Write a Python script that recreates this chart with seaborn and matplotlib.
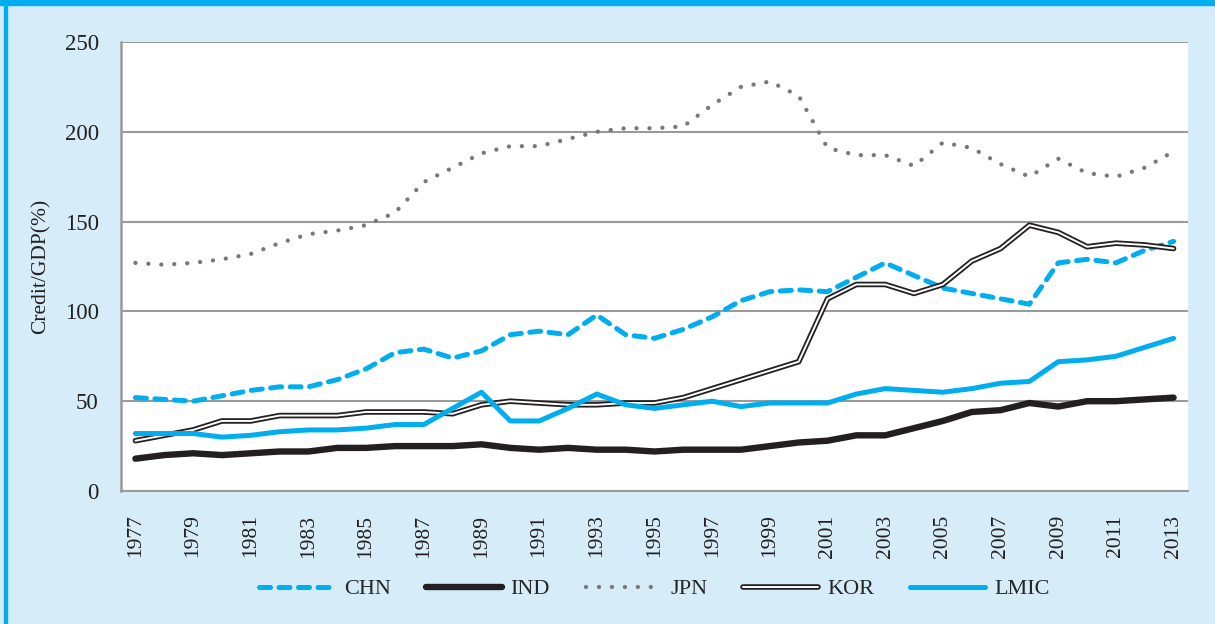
import matplotlib
matplotlib.use("Agg")
import matplotlib.pyplot as plt
import matplotlib.patheffects as pe
from matplotlib.patches import Rectangle
import numpy as np
import pandas as pd
import seaborn as sns

# данные
years = list(range(1977, 2014))
chn = [52, 51, 50, 53, 56, 58, 58, 62, 68, 77, 79, 74, 78, 87, 89, 87, 98, 87, 85, 90,
       97, 106, 111, 112, 111, 119, 127, 120, 113, 110, 107, 104, 127, 129, 127, 134, 139]
ind = [18, 20, 21, 20, 21, 22, 22, 24, 24, 25, 25, 25, 26, 24, 23, 24, 23, 23, 22, 23,
       23, 23, 25, 27, 28, 31, 31, 35, 39, 44, 45, 49, 47, 50, 50, 51, 52]
jpn = [127, 126, 127, 129, 132, 138, 143, 145, 148, 155, 172, 180, 188, 192, 192, 196, 200, 202, 202, 203,
       215, 225, 228, 220, 191, 187, 187, 181, 194, 191, 182, 175, 185, 177, 175, 180, 189]
kor = [28, 31, 34, 39, 39, 42, 42, 42, 44, 44, 44, 43, 48, 50, 49, 48, 48, 49, 49, 52,
       57, 62, 67, 72, 107, 115, 115, 110, 115, 128, 135, 148, 144, 136, 138, 137, 135]
lmic = [32, 32, 32, 30, 31, 33, 34, 34, 35, 37, 37, 46, 55, 39, 39, 46, 54, 48, 46, 48,
        50, 47, 49, 49, 49, 54, 57, 56, 55, 57, 60, 61, 72, 73, 75, 80, 85]
series_names = ["CHN", "IND", "JPN", "KOR", "LMIC"]

df = pd.DataFrame({"year": years, "CHN": chn, "IND": ind, "JPN": jpn, "KOR": kor, "LMIC": lmic})

sns.set_style("white")
plt.rcParams["font.family"] = ["Liberation Serif", "DejaVu Serif"]

blue = "#00AEEF"
dark = "#231F20"
grey = "#77787B"
bg = "#D6EDF9"

fig = plt.figure(figsize=(12.15, 6.24), dpi=100, facecolor=bg)
# рамка
fig.patches.append(Rectangle((0, 1 - 5 / 624), 1, 5 / 624, transform=fig.transFigure,
                             color=blue, zorder=0))
fig.patches.append(Rectangle((4 / 1215, 0), 2.5 / 1215, 1, transform=fig.transFigure,
                             color=blue, zorder=0))

ax = fig.add_axes([121 / 1215, 1 - 491 / 624, 1067 / 1215, 449 / 624])
ax.set_facecolor("white")

sns.lineplot(data=df, x="year", y="CHN", ax=ax, color=blue, lw=3.6, label="CHN",
             solid_capstyle="round")
ax.lines[-1].set_dashes((2.2, 1.7))
ax.lines[-1].set_dash_capstyle("round")
sns.lineplot(data=df, x="year", y="IND", ax=ax, color=dark, lw=4.6, label="IND",
             solid_capstyle="round")
sns.lineplot(data=df, x="year", y="JPN", ax=ax, color=grey, lw=3.1, label="JPN")
ax.lines[-1].set_dashes((0.01, 3.0))
ax.lines[-1].set_dash_capstyle("round")
sns.lineplot(data=df, x="year", y="KOR", ax=ax, color="white", lw=1.4, label="KOR",
             solid_capstyle="round",
             path_effects=[pe.Stroke(linewidth=4.0, foreground=dark), pe.Normal()])
sns.lineplot(data=df, x="year", y="LMIC", ax=ax, color=blue, lw=3.6, label="LMIC",
             solid_capstyle="round")

ax.set_xlim(1976.5, 2013.5)
ax.set_ylim(0, 250)
ax.set_xticks(years[::2])
ax.set_xticklabels([str(y) for y in years[::2]], rotation=90)
ax.set_xticks(np.arange(1976.5, 2014, 1), minor=True)
ax.tick_params(axis="x", which="major", length=0, pad=17, labelsize=15.5, colors="#231F20")
ax.tick_params(axis="x", which="minor", length=7, width=1.2, color="#9a9a9a")
ax.set_yticks(range(0, 251, 50))
ax.tick_params(axis="y", length=8, width=1.5, color="#9a9a9a", pad=8, labelsize=16.5,
               labelcolor="#231F20")
ax.yaxis.grid(True, color="#9a9a9a", lw=1.5)
ax.set_axisbelow(True)
for s in ["top", "right"]:
    ax.spines[s].set_visible(False)
ax.spines["left"].set_color("#9a9a9a")
ax.spines["left"].set_linewidth(1.8)
ax.spines["bottom"].set_color("#9a9a9a")
ax.spines["bottom"].set_linewidth(1.5)

ax.set_xlabel("")
ax.set_ylabel("Credit/GDP(%)", fontsize=15.5, color="#231F20")
ax.yaxis.set_label_coords(-70 / 1067, 0.5)

ax.legend(loc="center", bbox_to_anchor=(0.5, (491 - 589) / 449), ncol=5, frameon=False,
          fontsize=16, handlelength=3.4, handletextpad=0.4, columnspacing=1.6)

fig.savefig("out.png", dpi=100, facecolor=bg)
